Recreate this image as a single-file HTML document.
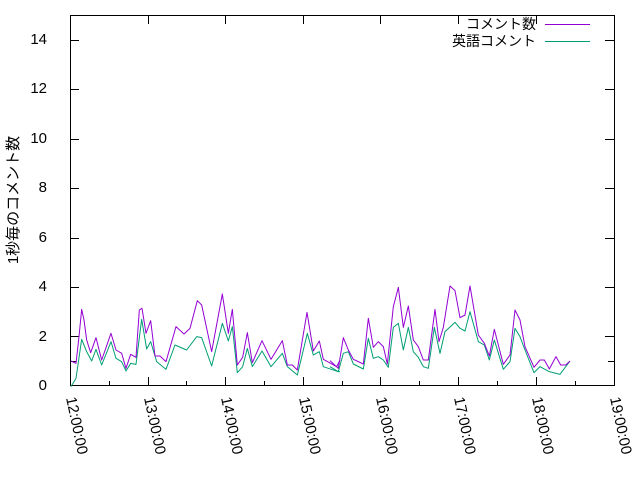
<!DOCTYPE html>
<html><head><meta charset="utf-8"><style>body{margin:0;background:#fff}svg{display:block}text{font-family:"Liberation Sans","Noto Sans CJK JP",sans-serif;font-size:15px;fill:#000}.lg{font-size:14px}</style></head><body>
<svg width="640" height="480" xmlns="http://www.w3.org/2000/svg">
<rect width="640" height="480" fill="#fff"/>
<g stroke="#000" stroke-width="1" fill="none">
<rect x="70.5" y="15.5" width="544" height="370"/>
<path d="M70 361.5h6M614 361.5h-6M70 336.5h9M614 336.5h-9M70 287.5h9M614 287.5h-9M70 238.5h9M614 238.5h-9M70 188.5h9M614 188.5h-9M70 139.5h9M614 139.5h-9M70 89.5h9M614 89.5h-9M70 40.5h9M614 40.5h-9"/>
<path d="M70.5 386v-9M148.5 386v-9M225.5 386v-9M303.5 386v-9M380.5 386v-9M458.5 386v-9M536.5 386v-9M614.5 386v-9M70.5 15v9M148.5 15v9M225.5 15v9M303.5 15v9M380.5 15v9M458.5 15v9M536.5 15v9"/>
<path d="M109.5 386v-5M186.5 386v-5M264.5 386v-5M342.5 386v-5M419.5 386v-5M497.5 386v-5M575.5 386v-5"/>
</g>
<g text-anchor="end">
<text x="47" y="390">0</text><text x="47" y="341">2</text><text x="47" y="291">4</text><text x="47" y="242">6</text><text x="47" y="192">8</text><text x="47" y="143">10</text><text x="47" y="93">12</text><text x="47" y="44">14</text>
</g>
<g>
<text transform="translate(66,398) rotate(78)">12:00:00</text>
<text transform="translate(144,398) rotate(78)">13:00:00</text>
<text transform="translate(221,398) rotate(78)">14:00:00</text>
<text transform="translate(299,398) rotate(78)">15:00:00</text>
<text transform="translate(376,398) rotate(78)">16:00:00</text>
<text transform="translate(454,398) rotate(78)">17:00:00</text>
<text transform="translate(532,398) rotate(78)">18:00:00</text>
<text transform="translate(610,398) rotate(78)">19:00:00</text>
</g>
<text transform="translate(18,200) rotate(-90)" text-anchor="middle">1秒毎のコメント数</text>
<text class="lg" x="536" y="29" text-anchor="end">コメント数</text>
<text class="lg" x="536" y="46" text-anchor="end">英語コメント</text>
<path d="M545 24.5h45" stroke="#9400d3"/>
<path d="M545 41.5h45" stroke="#009e73"/>
<g transform="translate(60,270) scale(0.33333)" fill="none" stroke-linejoin="round">
<polyline vector-effect="non-scaling-stroke" stroke="#009e73" stroke-width="1" points="33,350 48,325 65,208 80,245 95,273 108,238 125,285 153,215 168,265 185,275 198,303 212,280 228,283 245,148 260,237 272,215 290,275 318,298 345,225 380,240 410,200 425,203 455,288 487,160 505,213 517,170 532,308 548,290 562,235 577,290 606,243 633,290 667,250 682,290 712,315 742,190 760,255 778,245 790,290 835,305 840,305"/>
<polyline vector-effect="non-scaling-stroke" stroke="#9400d3" stroke-width="1" points="33,273 48,280 57,200 65,118 72,150 80,210 92,248 108,203 125,270 153,190 168,240 185,250 198,295 212,253 228,262 238,120 246,115 258,190 272,152 285,258 300,258 318,275 348,170 372,192 390,175 412,92 425,105 455,245 487,72 505,190 517,118 532,285 548,262 562,188 577,278 606,212 633,268 667,212 682,285 697,285 712,300 741,127 760,243 778,213 790,268 830,290 840,270"/>
</g>
<g transform="translate(330,270) scale(0.33333)" fill="none" stroke-linejoin="round">
<polyline vector-effect="non-scaling-stroke" stroke="#009e73" stroke-width="1" points="0,290 25,305 40,250 55,245 70,282 100,297 115,205 130,265 145,260 160,270 175,292 190,172 205,160 220,240 235,172 250,245 265,262 280,290 295,295 313,172 330,250 345,185 375,157 390,175 405,183 420,125 445,215 463,225 478,270 493,210 520,298 540,275 555,175 570,200 585,240 612,308 630,290 658,305 690,313 720,273"/>
<polyline vector-effect="non-scaling-stroke" stroke="#9400d3" stroke-width="1" points="0,272 25,295 40,203 55,240 70,268 100,282 115,145 130,232 145,215 160,230 172,282 190,110 205,52 220,172 235,108 250,210 265,230 280,270 295,270 315,118 327,215 340,172 360,48 375,62 390,143 405,135 420,48 445,195 463,220 478,258 493,178 520,283 540,255 555,120 570,150 585,230 612,292 630,270 643,270 658,297 678,260 692,285 707,285 720,273"/>
</g>
</svg>
</body></html>
